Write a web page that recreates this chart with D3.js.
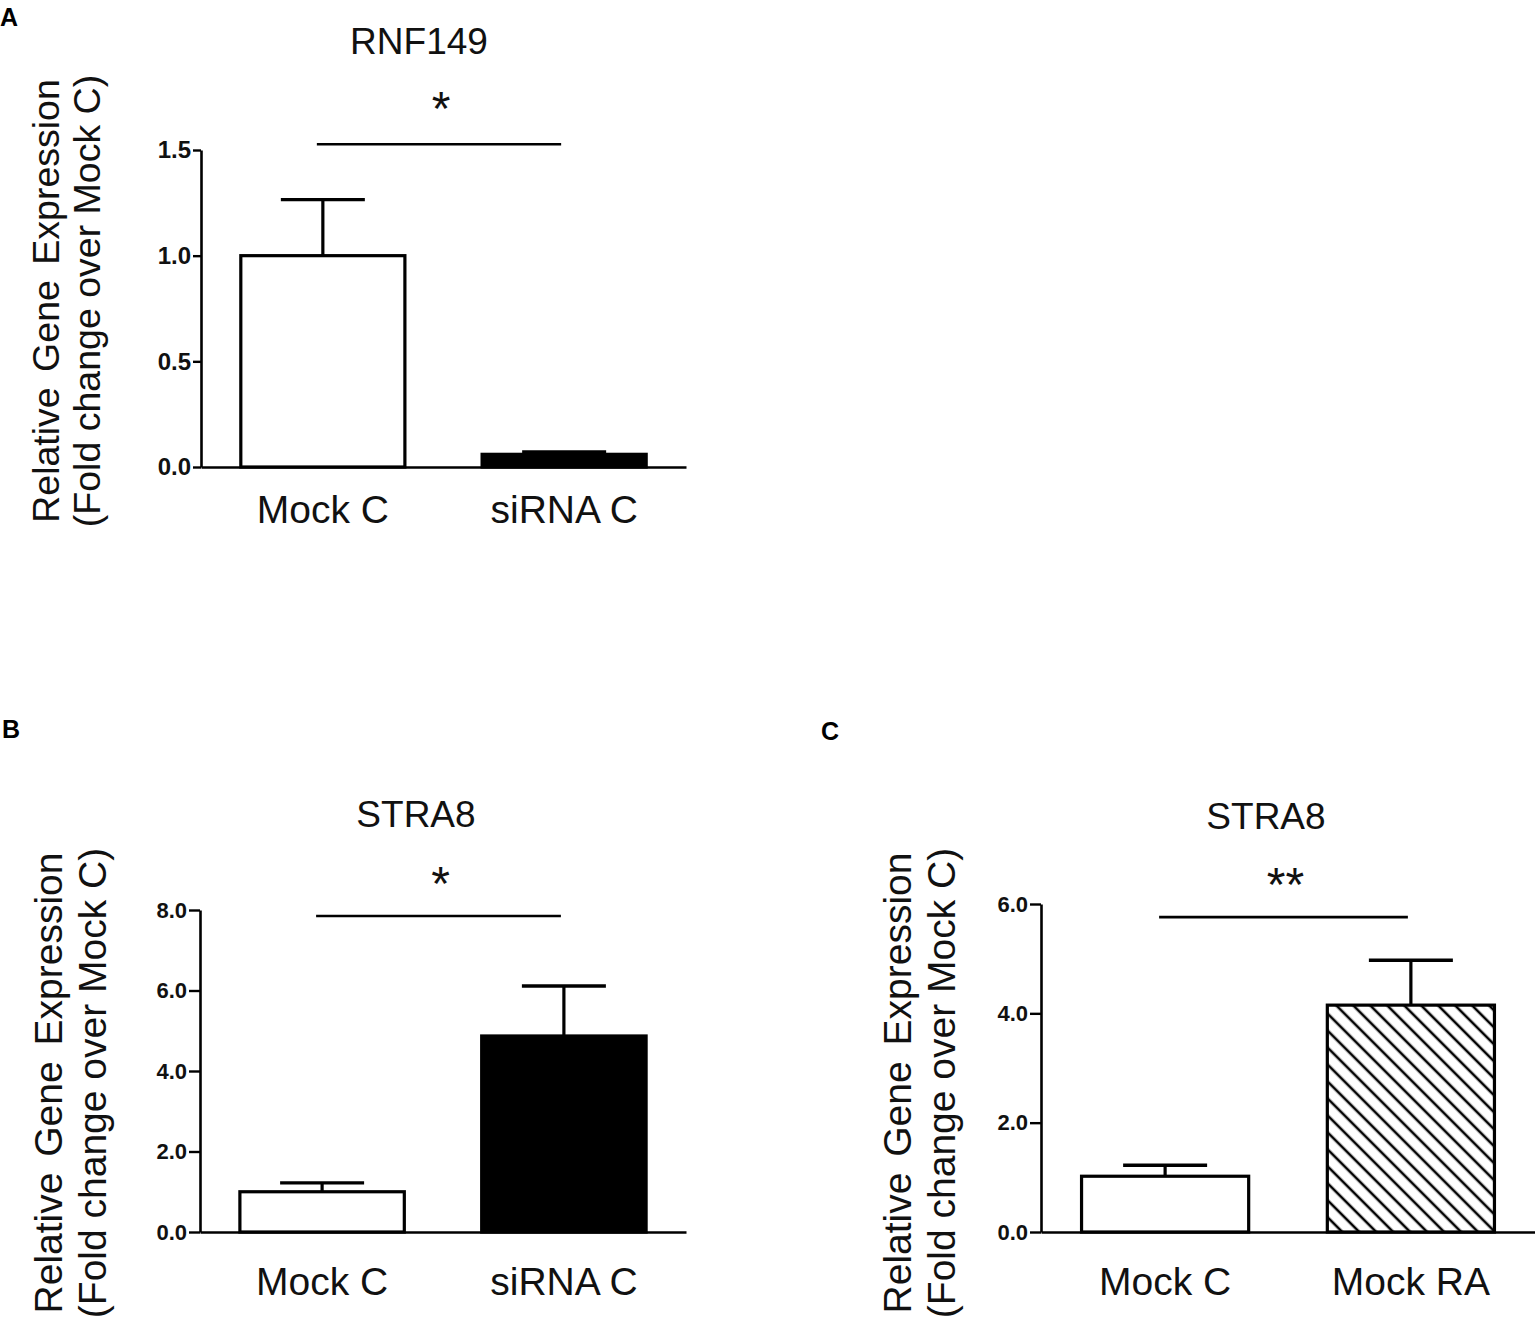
<!DOCTYPE html>
<html>
<head>
<meta charset="utf-8">
<script src="https://cdn.jsdelivr.net/npm/d3@7"></script>
<style>
  html, body { margin: 0; padding: 0; background: #fff; }
  svg { display: block; font-family: "Liberation Sans", Arial, Helvetica, sans-serif; }
</style>
</head>
<body>
<svg id="chart" width="1535" height="1319"></svg>
<script>
// ---------- data ----------
const titles = ["RNF149", "STRA8", "STRA8"];
const panelLetters = ["A", "B", "C"];
const yLabelLine1 = "Relative Gene Expression";
const yLabelLine2 = "(Fold change over Mock C)";

const categoriesA = ["Mock C", "siRNA C"];
const valuesA = [1.0, 0.06];
const semA = [0.265, 0.011];
const ticksA = [0, 0.5, 1.0, 1.5];
const fillsA = ["white", "black"];
const sigA = { level: 1.527, label: "*" };

const categoriesB = ["Mock C", "siRNA C"];
const valuesB = [1.0, 4.87];
const semB = [0.22, 1.24];
const ticksB = [0, 2, 4, 6, 8];
const fillsB = ["white", "black"];
const sigB = { level: 7.85, label: "*" };

const categoriesC = ["Mock C", "Mock RA"];
const valuesC = [1.02, 4.15];
const semC = [0.2, 0.82];
const ticksC = [0, 2, 4, 6];
const fillsC = ["white", "hatch"];
const sigC = { level: 5.76, label: "**" };

// ---------- layout ----------
const svg = d3.select("#chart");

const defs = svg.append("defs");
const pat = defs.append("pattern")
  .attr("id", "hatch")
  .attr("patternUnits", "userSpaceOnUse")
  .attr("width", 12).attr("height", 12)
  .attr("patternTransform", "rotate(45)");
pat.append("rect").attr("width", 12).attr("height", 12).attr("fill", "white");
pat.append("line").attr("x1", 0).attr("x2", 12).attr("y1", 6).attr("y2", 6)
  .attr("stroke", "black").attr("stroke-width", 2.6);

const panels = [
  { cats: categoriesA, vals: valuesA, sem: semA, ticks: ticksA, fills: fillsA, sig: sigA,
    title: titles[0], letter: panelLetters[0],
    letterX: 0, letterY: 26,
    axisX: 201, width: 485, y0: 467, yTopPx: 150, dMax: 1.5,
    tickFont: 24, tickLen: 8,
    titleX: 419, titleY: 54,
    catOffset: 28,
    ylFont: 37.5, yl1X: 59, yl2X: 100, ylY: 301,
    starGap: 19 },
  { cats: categoriesB, vals: valuesB, sem: semB, ticks: ticksB, fills: fillsB, sig: sigB,
    title: titles[1], letter: panelLetters[1],
    letterX: 2, letterY: 738,
    axisX: 200, width: 486, y0: 1232, yTopPx: 910, dMax: 8,
    tickFont: 22, tickLen: 11,
    titleX: 416, titleY: 827,
    catOffset: 35,
    ylFont: 39, yl1X: 62, yl2X: 106, ylY: 1083,
    starGap: 16 },
  { cats: categoriesC, vals: valuesC, sem: semC, ticks: ticksC, fills: fillsC, sig: sigC,
    title: titles[2], letter: panelLetters[2],
    letterX: 821, letterY: 740,
    axisX: 1041, width: 494, y0: 1232, yTopPx: 904, dMax: 6,
    tickFont: 22, tickLen: 11,
    titleX: 1266, titleY: 829,
    catOffset: 35,
    ylFont: 39, yl1X: 911, yl2X: 955, ylY: 1083,
    starGap: 16 }
];

panels.forEach(p => {
  const g = svg.append("g");

  const x = d3.scaleBand()
    .domain(p.cats)
    .range([p.axisX, p.axisX + p.width])
    .paddingInner(0.32)
    .paddingOuter(0.165);

  const y = d3.scaleLinear()
    .domain([0, p.dMax])
    .range([p.y0, p.yTopPx]);

  const rows = p.cats.map((c, i) => ({ cat: c, val: p.vals[i], sem: p.sem[i], fill: p.fills[i] }));

  // bars
  g.selectAll("rect.bar").data(rows).enter().append("rect")
    .attr("class", "bar")
    .attr("x", d => x(d.cat))
    .attr("width", x.bandwidth())
    .attr("y", d => y(d.val))
    .attr("height", d => y(0) - y(d.val))
    .attr("fill", d => d.fill === "hatch" ? "url(#hatch)" : d.fill)
    .attr("stroke", "black")
    .attr("stroke-width", 3.2);

  // error bars (upper)
  const capHalf = 42;
  g.selectAll("line.stem").data(rows).enter().append("line")
    .attr("x1", d => x(d.cat) + x.bandwidth() / 2)
    .attr("x2", d => x(d.cat) + x.bandwidth() / 2)
    .attr("y1", d => y(d.val))
    .attr("y2", d => y(d.val + d.sem))
    .attr("stroke", "black").attr("stroke-width", 3.2);
  g.selectAll("line.cap").data(rows).enter().append("line")
    .attr("x1", d => x(d.cat) + x.bandwidth() / 2 - capHalf)
    .attr("x2", d => x(d.cat) + x.bandwidth() / 2 + capHalf)
    .attr("y1", d => y(d.val + d.sem))
    .attr("y2", d => y(d.val + d.sem))
    .attr("stroke", "black").attr("stroke-width", 3.4);

  // y axis
  const yAxis = d3.axisLeft(y)
    .tickValues(p.ticks)
    .tickFormat(d3.format(".1f"))
    .tickSize(p.tickLen)
    .tickSizeOuter(0)
    .tickPadding(2);
  const ya = g.append("g").attr("transform", `translate(${p.axisX},0)`).call(yAxis);
  ya.select(".domain").attr("stroke-width", 2.6);
  ya.selectAll(".tick line").attr("stroke-width", 2.4);
  ya.selectAll(".tick text")
    .attr("font-size", p.tickFont)
    .attr("font-weight", "bold")
    .attr("font-family", "'Liberation Sans', Arial, sans-serif")
    .attr("fill", "#111");

  // x axis
  const xAxis = d3.axisBottom(x).tickSize(0).tickSizeOuter(0).tickPadding(p.catOffset);
  const xa = g.append("g").attr("transform", `translate(0,${p.y0})`).call(xAxis);
  xa.select(".domain").attr("stroke-width", 2.6);
  xa.selectAll(".tick text")
    .attr("font-size", 39)
    .attr("font-family", "'Liberation Sans', Arial, sans-serif")
    .attr("fill", "#111");

  // title
  g.append("text")
    .attr("x", p.titleX).attr("y", p.titleY)
    .attr("text-anchor", "middle")
    .attr("font-size", 37)
    .attr("fill", "#111")
    .text(p.title);

  // panel letter
  g.append("text")
    .attr("x", p.letterX).attr("y", p.letterY)
    .attr("font-size", 25)
    .attr("font-weight", "bold")
    .text(p.letter);

  // y-axis label (two lines, rotated)
  g.append("text")
    .attr("transform", `translate(${p.yl1X},${p.ylY}) rotate(-90)`)
    .attr("text-anchor", "middle")
    .attr("font-size", p.ylFont)
    .attr("word-spacing", 5)
    .attr("fill", "#111")
    .text(yLabelLine1);
  g.append("text")
    .attr("transform", `translate(${p.yl2X},${p.ylY}) rotate(-90)`)
    .attr("text-anchor", "middle")
    .attr("font-size", p.ylFont)
    .attr("fill", "#111")
    .text(yLabelLine2);

  // significance bracket
  const cx0 = x(p.cats[0]) + x.bandwidth() / 2 - 6;
  const cx1 = x(p.cats[1]) + x.bandwidth() / 2 - 3;
  const ys = y(p.sig.level);
  g.append("line")
    .attr("x1", cx0).attr("x2", cx1)
    .attr("y1", ys).attr("y2", ys)
    .attr("stroke", "black").attr("stroke-width", 2.6);
  g.append("text")
    .attr("x", (cx0 + cx1) / 2 + 2)
    .attr("y", ys - p.starGap)
    .attr("text-anchor", "middle")
    .attr("font-size", 48)
    .attr("fill", "#111")
    .text(p.sig.label);
});
</script>
</body>
</html>
